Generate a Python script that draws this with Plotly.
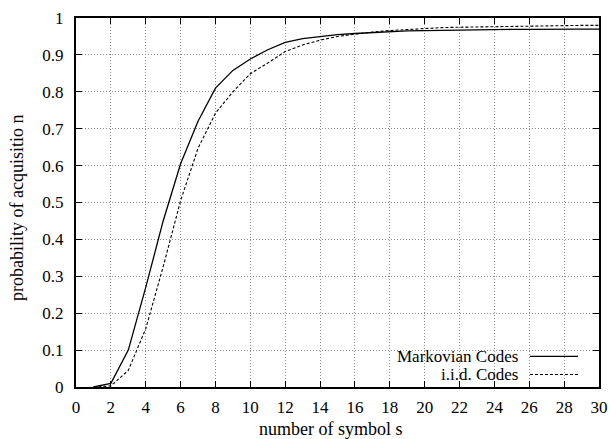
import plotly.graph_objects as go

x_symbols = list(range(1, 31))
markovian = [0.0, 0.01, 0.10, 0.27, 0.45, 0.605, 0.72, 0.81, 0.858, 0.889,
             0.914, 0.934, 0.944, 0.950, 0.955, 0.958, 0.961, 0.963, 0.965, 0.966,
             0.967, 0.967, 0.968, 0.968, 0.969, 0.969, 0.970, 0.970, 0.970, 0.970]
iid = [0.0, 0.003, 0.045, 0.158, 0.326, 0.505, 0.647, 0.742, 0.80, 0.849,
       0.878, 0.909, 0.927, 0.940, 0.950, 0.957, 0.962, 0.966, 0.969, 0.972,
       0.974, 0.975, 0.976, 0.977, 0.978, 0.978, 0.979, 0.979, 0.980, 0.980]
x_ticks = list(range(0, 31, 2))
y_ticks = [0, 0.1, 0.2, 0.3, 0.4, 0.5, 0.6, 0.7, 0.8, 0.9, 1]
y_tick_labels = ["0", "0.1", "0.2", "0.3", "0.4", "0.5", "0.6", "0.7", "0.8", "0.9", "1"]
series_names = ["Markovian Codes", "i.i.d. Codes"]
x_title = "number of symbol s"
y_title = "probability of acquisitio n"

FONT = "Liberation Serif"
FS = 17
FT = 18

fig = go.Figure()
fig.add_trace(go.Scatter(x=x_symbols, y=markovian, mode="lines", name=series_names[0],
                         line=dict(color="black", width=1.3), showlegend=False))
fig.add_trace(go.Scatter(x=x_symbols, y=iid, mode="lines", name=series_names[1],
                         line=dict(color="black", width=1.1, dash="3px,2px"), showlegend=False))

axis_common = dict(
    showline=True, linecolor="black", linewidth=2, mirror="ticks",
    ticks="inside", ticklen=6, tickwidth=1, tickcolor="black",
    showgrid=True, gridcolor="#8c8c8c", gridwidth=1, griddash="1px,2px",
    zeroline=False, automargin=False,
    tickfont=dict(family=FONT, size=FS, color="black"),
)

fig.update_xaxes(range=[0, 30], tickvals=x_ticks, ticktext=[str(v) for v in x_ticks],
                 ticklabelstandoff=4, **axis_common)
fig.update_yaxes(range=[0, 1], tickvals=y_ticks, ticktext=y_tick_labels,
                 ticklabelstandoff=7, **axis_common)

fig.add_annotation(xref="paper", yref="paper", x=0.488, y=-0.115, text=x_title, showarrow=False,
                   xanchor="center", yanchor="middle", font=dict(family=FONT, size=FT, color="black"))
fig.add_annotation(xref="paper", yref="paper", x=-0.113, y=0.485, text=y_title, showarrow=False,
                   textangle=-90, xanchor="center", yanchor="middle",
                   font=dict(family=FONT, size=FT, color="black"))

# legend (gnuplot style: text then sample line)
legend_rows = [(0.083, "solid"), (0.034, "3px,2px")]
for (yp, dash), name in zip(legend_rows, series_names):
    fig.add_annotation(xref="paper", yref="paper", x=0.849, y=yp, text=name, showarrow=False,
                       xanchor="right", yanchor="middle",
                       font=dict(family=FONT, size=FS, color="black"))
    fig.add_shape(type="line", xref="paper", yref="paper", x0=0.868, x1=0.960, y0=yp, y1=yp,
                  line=dict(color="black", width=1.1, dash=dash))

fig.update_layout(
    width=610, height=439,
    margin=dict(l=76, r=11, t=18, b=52),
    plot_bgcolor="white", paper_bgcolor="white",
    font=dict(family=FONT, size=FS, color="black"),
)

fig.write_html("out.html", config={"displayModeBar": False},
               post_script="document.body.style.margin='0';document.body.style.overflow='hidden';")
